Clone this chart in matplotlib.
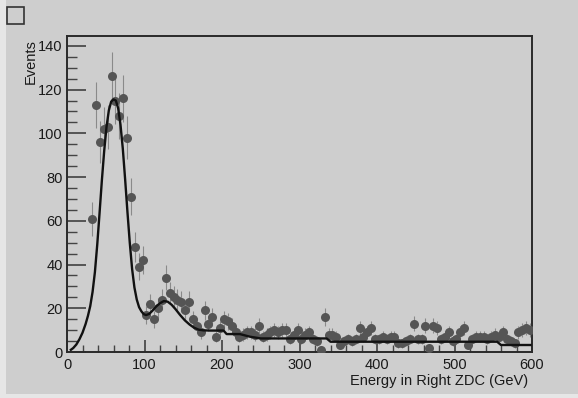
import numpy as np
import matplotlib
matplotlib.use("Agg")
import matplotlib.pyplot as plt
from matplotlib.patches import Rectangle
from matplotlib.ticker import MultipleLocator

# ---- data ----
bin_centers = [32.5 + 5 * i for i in range(114)]
counts = [61, 113, 96, 102, 103, 126, 115, 108, 116, 98,
          71, 48, 39, 42, 17, 22, 15, 20, 24, 34,
          27, 25, 24, 23, 19, 23, 15, 12, 9, 19,
          13, 16, 7, 11, 15, 14, 12, 9, 7, 8,
          9, 9, 8, 12, 7, 8, 9, 10, 9, 10,
          10, 6, 8, 10, 6, 8, 9, 6, 5, 1,
          16, 8, 8, 7, 3, 5, 6, 5, 6, 11,
          7, 9, 11, 6, 6, 7, 6, 7, 7, 4,
          4, 5, 6, 13, 6, 6, 12, 2, 12, 11,
          6, 7, 9, 5, 6, 9, 11, 3, 6, 7,
          7, 7, 6, 7, 8, 7, 9, 6, 5, 4,
          9, 10, 11, 10]

fit_x = [5, 8, 12, 16, 20, 24, 27, 30, 33, 36, 39, 42, 45, 48, 51, 54, 57, 60, 63,
         66, 69, 72, 75, 78, 81, 84, 87, 90, 93, 96, 99, 102, 106, 110, 115, 120,
         125, 130, 135, 140, 146, 152, 158, 164, 170, 176, 185,
         202, 206, 210, 223, 236, 250, 335, 340, 425, 494, 555, 560, 598]
fit_y = [1.0, 1.8, 3.4, 5.8, 8.8, 12.8, 16.5, 21.0, 27.5, 36.5, 49.0, 63.5, 78.5, 92.0,
         103.0, 110.5, 114.5, 115.5, 115.0, 111.5, 104.0, 93.0, 79.0, 64.0, 50.0, 38.0,
         29.5, 24.0, 20.5, 18.6, 17.3, 16.9, 17.4, 18.8, 20.8, 22.3,
         23.3, 23.0, 21.6, 19.6, 16.9, 14.5, 12.6, 11.1, 10.2, 9.9, 9.8,
         9.8, 8.2, 8.2, 8.2, 7.0, 6.2, 6.2, 4.7, 4.7, 4.7, 4.7, 3.2, 3.2]

x_ticks = [0, 100, 200, 300, 400, 500, 600]
y_ticks = [0, 20, 40, 60, 80, 100, 120, 140]

plt.rcParams['font.family'] = ['Liberation Sans', 'DejaVu Sans']

bg = '#cecece'
fig = plt.figure(figsize=(5.78, 3.98), dpi=100, facecolor=bg)
# lighter scan borders
fig.patches.append(Rectangle((0, 0), 6 / 578, 1, transform=fig.transFigure,
                             facecolor='#e6e6e6', edgecolor='none', zorder=0))
fig.patches.append(Rectangle((0, 0), 1, 4 / 398, transform=fig.transFigure,
                             facecolor='#e6e6e6', edgecolor='none', zorder=0))
# small square top-left
fig.patches.append(Rectangle((7 / 578, 1 - 24 / 398), 17 / 578, 17 / 398,
                             transform=fig.transFigure, facecolor='none',
                             edgecolor='#333333', linewidth=1.2, zorder=2))

ax = fig.add_axes([67 / 578, 1 - 352 / 398, (532 - 67) / 578, (352 - 36) / 398])
ax.set_facecolor(bg)

yerr = np.sqrt(np.array(counts, dtype=float))
ax.errorbar(bin_centers, counts, yerr=yerr, fmt='o', color='#555555',
            ecolor='#8a8a8a', elinewidth=0.8, capsize=1.5, capthick=0.8,
            markersize=6.5, markeredgewidth=0, zorder=3)
ax.plot(fit_x, fit_y, color='#111111', linewidth=1.7, zorder=4)

ax.set_xlim(0, 600)
ax.set_ylim(0, 144.5)
ax.set_xticks(x_ticks)
ax.set_yticks(y_ticks)
ax.xaxis.set_minor_locator(MultipleLocator(20))
ax.yaxis.set_minor_locator(MultipleLocator(5))
ax.tick_params(axis='both', which='major', direction='in', length=10, width=1.1,
               color='#333333', labelsize=10.5, labelcolor='#1a1a1a')
ax.tick_params(axis='x', which='major', length=9, pad=4)
ax.tick_params(axis='y', which='major', length=14, pad=3)
ax.tick_params(axis='both', which='minor', direction='in', length=5, width=1.0,
               color='#444444')
ax.tick_params(axis='y', which='minor', length=7)
ax.tick_params(top=False, right=False, which='both')
for s in ax.spines.values():
    s.set_color('#2a2a2a')
    s.set_linewidth(1.4)

fig.text(528 / 578, 1 - 381 / 398, 'Energy in Right ZDC (GeV)', ha='right', va='center',
         fontsize=10.5, color='#1a1a1a')
fig.text(31 / 578, 1 - 39 / 398, 'Events', rotation=90, ha='center', va='top',
         fontsize=10.5, color='#1a1a1a')

fig.savefig('out.png', dpi=100, facecolor=bg)
